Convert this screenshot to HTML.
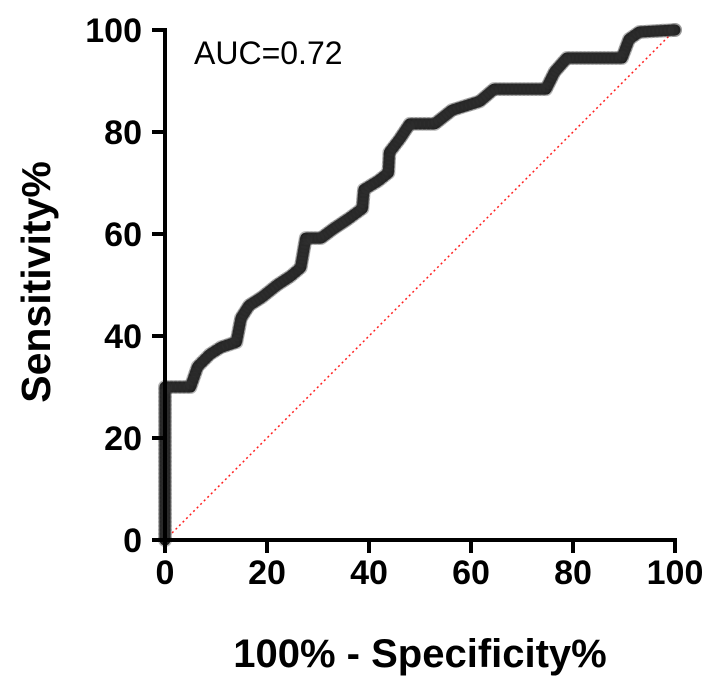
<!DOCTYPE html>
<html><head><meta charset="utf-8"><style>
html,body{margin:0;padding:0;background:#fff;}
svg{display:block;font-family:"Liberation Sans",Arial,sans-serif;}
</style></head><body>
<svg id="chart" width="714" height="687" viewBox="0 0 714 687">
<line x1="165" y1="540" x2="675" y2="30" stroke="#ff2020" stroke-width="1.5" stroke-dasharray="2,3"/>
<g id="curve"></g>
<g id="axes"></g>
<text x="194" y="64" font-size="32" fill="#000">AUC=0.72</text>
<text x="420" y="667" font-size="40" font-weight="bold" text-anchor="middle">100% - Specificity%</text>
<text transform="translate(50,282) rotate(-90)" font-size="41" font-weight="bold" text-anchor="middle">Sensitivity%</text>
</svg>
<script>
const fprValues=[0,0,5,6.4,8.8,11,14,14.9,16.5,19,22,24.6,26.6,27.6,30.6,33,36,38.7,39,41.8,43.8,44,46,48,52.9,56.3,61.7,64.5,74.7,76.4,78.8,89.6,91,93,100];
const tprValues=[0,30,30,34,36.4,37.8,38.8,43.5,46,47.6,50,51.7,53.4,59.2,59.2,61,63,65,68.7,70.4,72,76,78.6,81.6,81.6,84.3,86,88.4,88.4,91.8,94.5,94.5,98.2,99.6,100];
const xTicks=[0,20,40,60,80,100];
const yTicks=[0,20,40,60,80,100];
const NS="http://www.w3.org/2000/svg";
const X0=165,X1=675,Y0=540,Y1=30;
function sx(v){return X0+(X1-X0)*v/100;}
function sy(v){return Y0-(Y0-Y1)*v/100;}
function mk(tag,attrs,parent){const e=document.createElementNS(NS,tag);for(const k in attrs)e.setAttribute(k,attrs[k]);parent.appendChild(e);return e;}
const curve=document.getElementById('curve');
const pts=fprValues.map((v,i)=>sx(v)+','+sy(tprValues[i])).join(' ');
const pl=mk('polyline',{points:pts,fill:'none',stroke:'#111','stroke-width':11,'stroke-linejoin':'round','stroke-linecap':'round'},curve);


for(let i=0;i<fprValues.length-1;i++){
  const xa=sx(fprValues[i]),ya=sy(tprValues[i]),xb=sx(fprValues[i+1]),yb=sy(tprValues[i+1]);
  const d=Math.hypot(xb-xa,yb-ya);const n=Math.max(1,Math.round(d/4));
  for(let j=0;j<n;j++){
    const t=j/n;
    const c=mk('circle',{cx:xa+(xb-xa)*t,cy:ya+(yb-ya)*t,r:7,fill:'#333','fill-opacity':0.35},curve);
    
    
  }
}
const ec=mk('circle',{cx:sx(100),cy:sy(100),r:7,fill:'#333','fill-opacity':0.5},curve);


const axes=document.getElementById('axes');
const ya=mk('line',{x1:X0,y1:Y1-2,x2:X0,y2:Y0+2,stroke:'#000','stroke-width':4},axes);


const xa=mk('line',{x1:X0-2,y1:Y0,x2:X1+2,y2:Y0,stroke:'#000','stroke-width':4},axes);


yTicks.forEach(v=>{
  const t=mk('line',{x1:X0-13,y1:sy(v),x2:X0,y2:sy(v),stroke:'#000','stroke-width':4},axes);
  
  
  const l=mk('text',{x:X0-23,y:sy(v)+12,'font-size':34,'font-weight':'bold','text-anchor':'end'},axes);
  l.textContent=v;
  
  
});
xTicks.forEach(v=>{
  const t=mk('line',{x1:sx(v),y1:Y0,x2:sx(v),y2:Y0+13,stroke:'#000','stroke-width':4},axes);
  
  
  const l=mk('text',{x:sx(v),y:Y0+44,'font-size':34,'font-weight':'bold','text-anchor':'middle'},axes);
  l.textContent=v;
  
  
});
</script>
</body></html>
